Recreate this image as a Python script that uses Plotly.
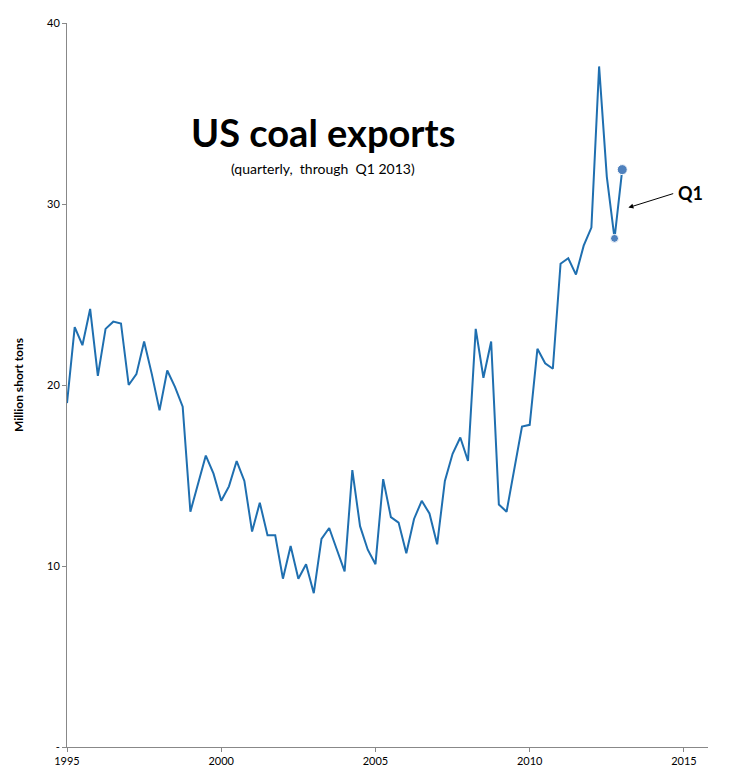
import plotly.graph_objects as go

years = list(range(1995, 2013))
values = [
    19.0, 23.2, 22.2, 24.2,
    20.5, 23.1, 23.5, 23.4,
    20.0, 20.6, 22.4, 20.6,
    18.6, 20.8, 19.9, 18.8,
    13.0, 14.6, 16.1, 15.1,
    13.6, 14.4, 15.8, 14.7,
    11.9, 13.5, 11.7, 11.7,
    9.3, 11.1, 9.3, 10.1,
    8.5, 11.5, 12.1, 10.9,
    9.7, 15.3, 12.2, 10.9,
    10.1, 14.8, 12.7, 12.4,
    10.7, 12.6, 13.6, 12.9,
    11.2, 14.7, 16.2, 17.1,
    15.8, 23.1, 20.4, 22.4,
    13.4, 13.0, 15.4, 17.7,
    17.8, 22.0, 21.2, 20.9,
    26.7, 27.0, 26.1, 27.7,
    28.7, 37.6, 31.5, 28.1,
    31.9,
]
x = [1995 + i / 4 for i in range(len(values))]
xticks = [1995, 2000, 2005, 2010, 2015]
yticks = [0, 10, 20, 30, 40]
yticklabels = ["-", "10", "20", "30", "40"]

fig = go.Figure()
fig.add_trace(go.Scatter(x=x, y=values, mode="lines",
                         line=dict(color="#1f6fb0", width=2), hoverinfo="skip"))
fig.add_trace(go.Scatter(x=x[-2:], y=values[-2:], mode="markers",
                         marker=dict(color="#4f81bd", size=[8, 10], opacity=1), hoverinfo="skip"))

fig.add_annotation(x=2003.3, y=34.0, text="<b>US coal exports</b>", showarrow=False,
                   font=dict(size=38, color="black"))
fig.add_annotation(x=2003.3, y=31.95, text="(quarterly,  through  Q1 2013)", showarrow=False,
                   font=dict(size=14, color="black"))
fig.add_annotation(x=2013.2, y=29.8, ax=2014.7, ay=30.6, axref="x", ayref="y",
                   text="", showarrow=True, arrowhead=2, arrowsize=1, arrowwidth=1,
                   arrowcolor="black")
fig.add_annotation(x=2015.2, y=30.6, text="<b>Q1</b>", showarrow=False,
                   font=dict(size=18, color="black"))

fig.update_layout(
    width=726, height=767, showlegend=False,
    plot_bgcolor="white", paper_bgcolor="white",
    margin=dict(l=59, r=26, t=8, b=23),
    font=dict(family="Lato, Open Sans, sans-serif", size=11, color="black"),
    xaxis=dict(range=[1995, 2015.78], tickvals=xticks, ticktext=[str(t) for t in xticks],
               showgrid=False, zeroline=False, showline=True, linecolor="#888",
               ticks="outside", ticklen=4, tickcolor="#888"),
    yaxis=dict(range=[0, 40], tickvals=yticks, ticktext=yticklabels,
               showgrid=False, zeroline=False, showline=True, linecolor="#888",
               ticks="outside", ticklen=4, tickcolor="#888",
               title=dict(text="<b>Million short tons</b>", font=dict(size=12), standoff=20)),
)
fig.write_html("out.html")
